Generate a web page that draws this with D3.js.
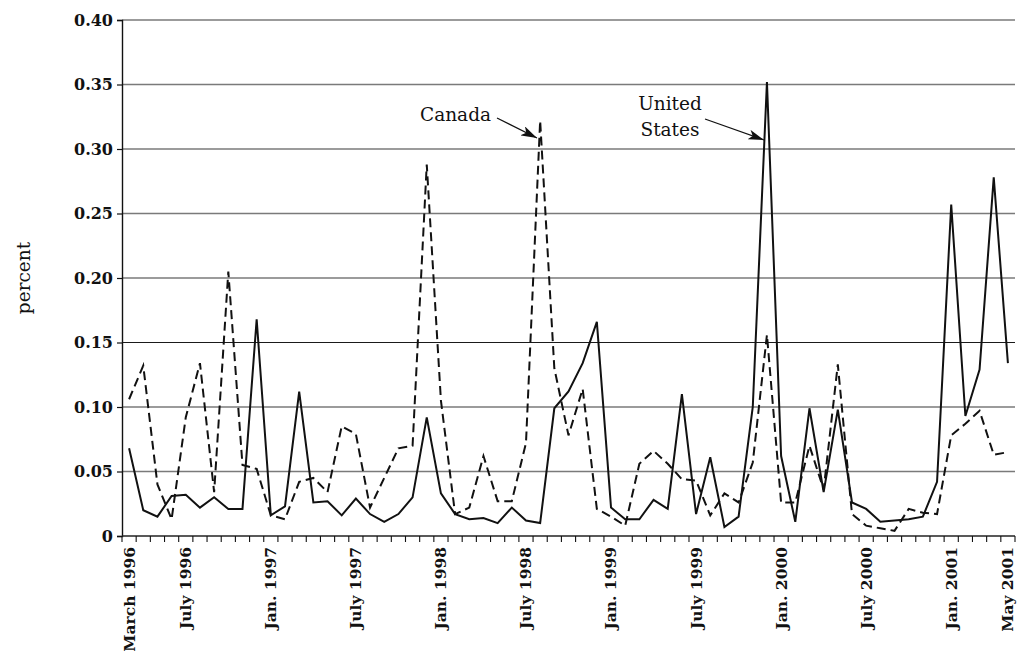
<!DOCTYPE html>
<html>
<head>
<meta charset="utf-8">
<script src="https://cdn.jsdelivr.net/npm/d3@7"></script>
<style>
  html, body { margin: 0; padding: 0; background: #fff; }
  svg { display: block; }
  text { font-family: "DejaVu Serif", "Liberation Serif", serif; fill: #111; }
</style>
</head>
<body>
<svg id="chart" width="1019" height="660"></svg>
<script>
// ---- data ----
const startMonth = new Date(1996, 2, 1);   // March 1996
const endMonth = new Date(2001, 5, 1);     // exclusive: June 2001
const months = d3.timeMonth.range(startMonth, endMonth);

const unitedStates = [
  0.068, 0.020, 0.015, 0.031, 0.032, 0.022, 0.030, 0.021, 0.021, 0.168,
  0.016, 0.023, 0.112, 0.026, 0.027, 0.016, 0.029, 0.017, 0.011, 0.017,
  0.030, 0.092, 0.033, 0.017, 0.013, 0.014, 0.010, 0.022, 0.012, 0.010,
  0.099, 0.112, 0.134, 0.166, 0.022, 0.013, 0.013, 0.028, 0.021, 0.110,
  0.017, 0.061, 0.007, 0.015, 0.100, 0.352, 0.062, 0.011, 0.099, 0.034,
  0.098, 0.026, 0.021, 0.011, 0.012, 0.013, 0.015, 0.042, 0.257, 0.093,
  0.129, 0.278, 0.134
];

const canada = [
  0.106, 0.132, 0.040, 0.013, 0.092, 0.134, 0.034, 0.205, 0.055, 0.052,
  0.016, 0.013, 0.042, 0.045, 0.034, 0.085, 0.079, 0.022, 0.045, 0.068,
  0.070, 0.288, 0.105, 0.017, 0.022, 0.062, 0.027, 0.027, 0.072, 0.322,
  0.130, 0.078, 0.114, 0.021, 0.015, 0.008, 0.056, 0.066, 0.056, 0.044,
  0.043, 0.016, 0.033, 0.026, 0.057, 0.156, 0.026, 0.026, 0.070, 0.036,
  0.133, 0.017, 0.008, 0.006, 0.004, 0.021, 0.018, 0.017, 0.078, 0.087,
  0.097, 0.063, 0.065
];

const xTickLabels = [
  ["1996-03", "March 1996"], ["1996-07", "July 1996"], ["1997-01", "Jan. 1997"],
  ["1997-07", "July 1997"], ["1998-01", "Jan. 1998"], ["1998-07", "July 1998"],
  ["1999-01", "Jan. 1999"], ["1999-07", "July 1999"], ["2000-01", "Jan. 2000"],
  ["2000-07", "July 2000"], ["2001-01", "Jan. 2001"], ["2001-05", "May 2001"]
];
const yTicks = [0, 0.05, 0.10, 0.15, 0.20, 0.25, 0.30, 0.35, 0.40];
const yTickLabels = ["0", "0.05", "0.10", "0.15", "0.20", "0.25", "0.30", "0.35", "0.40"];

(function draw() {
  const svg = d3.select("#chart");
  const mLeft = 122, mRight = 1015, mTop = 20, mBottom = 536;
  const fmtKey = d3.timeFormat("%Y-%m");
  const keys = months.map(fmtKey);

  const x = d3.scaleBand().domain(keys).range([mLeft, mRight]).paddingInner(0).paddingOuter(0);
  const y = d3.scaleLinear().domain([0, 0.40]).range([mBottom, mTop]);
  const cx = k => x(k) + x.bandwidth() / 2;

  // gridlines
  svg.append("g").selectAll("line")
    .data(yTicks.filter(t => t > 0))
    .join("line")
    .attr("x1", mLeft).attr("x2", mRight)
    .attr("y1", d => y(d)).attr("y2", d => y(d))
    .attr("stroke", d => Math.abs(d - 0.15) < 1e-9 ? "#1a1a1a" : "#7a7a7a")
    .attr("stroke-width", d => Math.abs(d - 0.15) < 1e-9 ? 1.2 : 1.4);

  // y axis
  const yAxis = d3.axisLeft(y).tickValues(yTicks)
    .tickFormat((d, i) => yTickLabels[i]).tickSize(5).tickPadding(4);
  const gy = svg.append("g").attr("transform", `translate(${mLeft},0)`).call(yAxis);
  gy.select(".domain").attr("stroke", "#111").attr("stroke-width", 1.4);
  gy.selectAll(".tick line").attr("stroke", "#111").attr("stroke-width", 1.2);
  gy.selectAll(".tick text")
    .style("font-family", '"DejaVu Serif", serif')
    .style("font-weight", "bold").style("font-size", "16px").attr("fill", "#111");

  // x axis: ticks at band boundaries
  const boundaries = keys.map(k => x(k)).concat([mRight]);
  svg.append("line").attr("x1", mLeft).attr("x2", mRight).attr("y1", mBottom).attr("y2", mBottom)
    .attr("stroke", "#222").attr("stroke-width", 1.6);
  svg.append("g").selectAll("line").data(boundaries).join("line")
    .attr("x1", d => d).attr("x2", d => d)
    .attr("y1", mBottom).attr("y2", mBottom + 6)
    .attr("stroke", "#111").attr("stroke-width", 1.1);

  svg.append("g").selectAll("text").data(xTickLabels).join("text")
    .attr("transform", d => `translate(${cx(d[0])},${mBottom + 11}) rotate(-90)`)
    .attr("text-anchor", "end").attr("dy", "0.35em")
    .style("font-weight", "bold").style("font-size", "15.5px")
    .text(d => d[1]);

  // y label
  svg.append("text")
    .attr("transform", `translate(24,278) rotate(-90)`)
    .attr("text-anchor", "middle").attr("dy", "0.35em")
    .style("font-size", "18.5px")
    .text("percent");

  // lines
  const line = d3.line().x((d, i) => cx(keys[i])).y(d => y(d));
  svg.append("path").datum(canada).attr("d", line)
    .attr("fill", "none").attr("stroke", "#111").attr("stroke-width", 2)
    .attr("stroke-dasharray", "9,5").attr("stroke-linejoin", "miter");
  svg.append("path").datum(unitedStates).attr("d", line)
    .attr("fill", "none").attr("stroke", "#111").attr("stroke-width", 2)
    .attr("stroke-linejoin", "miter");

  // annotations
  const defs = svg.append("defs");
  defs.append("marker").attr("id", "arr")
    .attr("viewBox", "0 0 16 10").attr("refX", 16).attr("refY", 5)
    .attr("markerWidth", 16).attr("markerHeight", 10)
    .attr("markerUnits", "userSpaceOnUse").attr("orient", "auto")
    .append("path").attr("d", "M0,0 L16,5 L0,10 L4,5 Z").attr("fill", "#111");

  svg.append("text").attr("x", 420).attr("y", 121).style("font-size", "18.5px").text("Canada");
  svg.append("line").attr("x1", 497).attr("y1", 118).attr("x2", 537).attr("y2", 138)
    .attr("stroke", "#111").attr("stroke-width", 1.2).attr("marker-end", "url(#arr)");

  svg.append("text").attr("x", 670).attr("y", 110).attr("text-anchor", "middle")
    .style("font-size", "18.5px").text("United");
  svg.append("text").attr("x", 670).attr("y", 136).attr("text-anchor", "middle")
    .style("font-size", "18.5px").text("States");
  svg.append("line").attr("x1", 705).attr("y1", 119).attr("x2", 764).attr("y2", 140)
    .attr("stroke", "#111").attr("stroke-width", 1.2).attr("marker-end", "url(#arr)");
})();
</script>
</body>
</html>
